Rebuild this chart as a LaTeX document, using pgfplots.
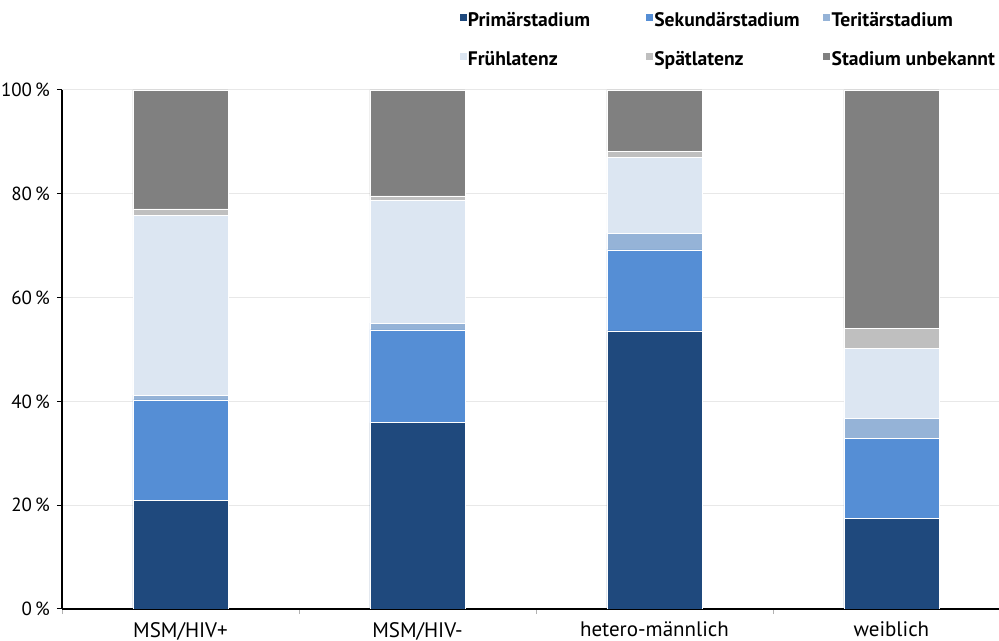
\documentclass[border=0pt]{standalone}
\usepackage{fontspec}
\setmainfont{PT Sans}
\usepackage{pgfplots}
\pgfplotsset{compat=1.18}
\definecolor{c1}{RGB}{31,73,125}
\definecolor{c2}{RGB}{85,142,213}
\definecolor{c3}{RGB}{149,179,215}
\definecolor{c4}{RGB}{220,230,242}
\definecolor{c5}{RGB}{191,191,191}
\definecolor{c6}{RGB}{128,128,128}
\begin{document}
\begin{tikzpicture}
\begin{axis}[name=ax, scale only axis, width=468.5pt, height=259.5pt,
  ybar stacked, bar width=47.5pt,
  xmin=-0.5, xmax=3.454, ymin=0, ymax=100,
  xtick={-0.5,0.5,1.5,2.5,3.5}, xticklabels={},
  extra x ticks={0,1,2,3},
  extra x tick labels={MSM/HIV+,MSM/HIV-,hetero-männlich,weiblich},
  extra x tick style={major tick length=0pt, grid=none,
    tick label style={yshift=-3pt}},
  ytick={0,20,40,60,80,100},
  yticklabel={\pgfmathprintnumber{\tick}\,\%},
  /pgf/number format/assume math mode=true,
  tick align=outside, major tick length=2.5pt,
  xtick style={draw=gray!60, line width=0.4pt},
  ytick style={draw=black, line width=0.5pt},
  ymajorgrids, grid style={draw=gray!18, line width=0.5pt},
  axis x line*=bottom, axis y line*=left,
  axis line style={black, line width=0.7pt},
  y tick label style={font=\fontsize{9.5}{11}\selectfont},
  x tick label style={font=\fontsize{10.5}{12}\selectfont},
  legend columns=3,
  legend cell align=left,
  legend style={at={(0.424,1.153)}, anchor=north west, draw=none, fill=none,
    inner sep=0pt, nodes={inner sep=0.6pt},
    font=\bfseries\fontsize{9.8}{11}\selectfont,
    row sep=10pt},
  legend image code/.code={\fill[#1,draw=none] (0pt,0pt) rectangle (3.5pt,3.5pt);},
  every axis plot/.append style={draw=white, line width=0.25pt},
]
\addplot[fill=c1] coordinates {(0,21.0) (1,35.9) (2,53.6) (3,17.5)};
\addplot[fill=c2] coordinates {(0,19.3) (1,17.9) (2,15.6) (3,15.4)};
\addplot[fill=c3] coordinates {(0,0.9) (1,1.3) (2,3.2) (3,3.9)};
\addplot[fill=c4] coordinates {(0,34.7) (1,23.7) (2,14.6) (3,13.4)};
\addplot[fill=c5] coordinates {(0,1.2) (1,0.8) (2,1.2) (3,3.9)};
\addplot[fill=c6] coordinates {(0,22.9) (1,20.4) (2,11.8) (3,45.9)};
\addlegendentry{\makebox[88.5pt][l]{Primärstadium}}
\addlegendentry{\makebox[84pt][l]{Sekundärstadium}}
\addlegendentry{\makebox[84pt][l]{Teritärstadium}}
\addlegendentry{\makebox[88.5pt][l]{Frühlatenz}}
\addlegendentry{\makebox[84pt][l]{Spätlatenz}}
\addlegendentry{\makebox[84pt][l]{Stadium unbekannt}}
\end{axis}
\pgfresetboundingbox
\useasboundingbox ([xshift=-31pt,yshift=-16pt]ax.south west) rectangle ([yshift=45pt]ax.north east);
\end{tikzpicture}
\end{document}
